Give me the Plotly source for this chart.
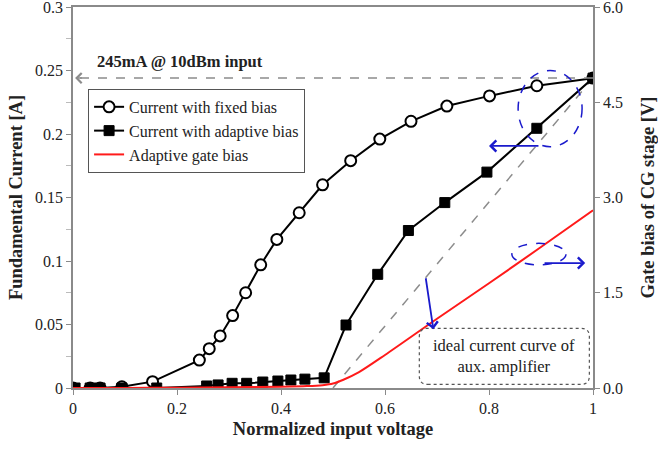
import plotly.graph_objects as go

# ---- data ----
fixed_x = [0, 0.033, 0.052, 0.094, 0.153, 0.243, 0.262, 0.283, 0.307, 0.332, 0.361,
           0.392, 0.435, 0.480, 0.534, 0.590, 0.650, 0.719, 0.801, 0.892, 1.0]
fixed_y = [0, 0, 0, 0.001, 0.005, 0.022, 0.031, 0.041, 0.057, 0.075, 0.097,
           0.117, 0.138, 0.160, 0.179, 0.196, 0.210, 0.222, 0.230, 0.238, 0.244]

adapt_x = [0.004, 0.033, 0.052, 0.094, 0.161, 0.257, 0.279, 0.306, 0.334, 0.365, 0.394,
           0.419, 0.446, 0.483, 0.525, 0.586, 0.645, 0.715, 0.796, 0.892, 1.0]
adapt_y = [0, 0, 0, 0, 0, 0.0016, 0.0024, 0.0037, 0.0037, 0.0047, 0.0055,
           0.0063, 0.0070, 0.0080, 0.0496, 0.0895, 0.124, 0.146, 0.170, 0.2045, 0.244]

gate_x = [0, 0.1, 0.2, 0.3, 0.4, 0.45, 0.48, 0.5, 0.52, 0.55, 0.6, 0.7, 0.8, 0.9, 1.0]
gate_v = [0, 0, 0.005, 0.01, 0.02, 0.03, 0.045, 0.07, 0.13, 0.25, 0.52, 1.09, 1.65, 2.22, 2.80]

ideal_x = [0.5, 1.0]
ideal_y = [0.0, 0.244]

ref_current = 0.244

x_ticks = [0, 0.2, 0.4, 0.6, 0.8, 1.0]
x_ticktext = ["0", "0.2", "0.4", "0.6", "0.8", "1"]
y_ticks = [0, 0.05, 0.1, 0.15, 0.2, 0.25, 0.3]
y_ticktext = ["0", "0.05", "0.1", "0.15", "0.2", "0.25", "0.3"]
y2_ticks = [0, 1.5, 3.0, 4.5, 6.0]
y2_ticktext = ["0.0", "1.5", "3.0", "4.5", "6.0"]

FONT = "Liberation Serif"
AXC = "#8a8a8a"
BLUE = "#1a1acc"
TXT = "#222222"

fig = go.Figure()

fig.add_trace(go.Scatter(x=ideal_x, y=ideal_y, mode="lines", showlegend=False,
                         line=dict(color="#8c8c8c", width=1.5, dash="dash"), hoverinfo="skip"))

fig.add_trace(go.Scatter(x=fixed_x, y=fixed_y, mode="lines+markers", name="Current with fixed bias",
                         line=dict(color="black", width=2),
                         marker=dict(symbol="circle", size=11, color="white",
                                     line=dict(color="black", width=2))))
fig.add_trace(go.Scatter(x=adapt_x, y=adapt_y, mode="lines+markers", name="Current with adaptive bias",
                         line=dict(color="black", width=2),
                         marker=dict(symbol="square", size=10, color="black",
                                     line=dict(color="black", width=1))))
fig.add_trace(go.Scatter(x=gate_x, y=gate_v, mode="lines", name="Adaptive gate bias", yaxis="y2",
                         line=dict(color="#ff1a1a", width=2, shape="spline", smoothing=0.8)))

shapes = []
# horizontal dashed reference line
shapes.append(dict(type="line", xref="x", yref="y", x0=1.0, x1=0.012, y0=ref_current, y1=ref_current,
                   line=dict(color="#8c8c8c", width=1.5, dash="dash")))
# blue dashed ellipses
shapes.append(dict(type="circle", xref="x", yref="y", x0=0.856, x1=0.979, y0=0.190, y1=0.250,
                   line=dict(color=BLUE, width=1.5, dash="dash")))
shapes.append(dict(type="circle", xref="x", yref="y", x0=0.844, x1=0.948, y0=0.0969, y1=0.1139,
                   line=dict(color=BLUE, width=1.5, dash="dash")))
# rounded dotted text box
bx0, bx1, by0, by1 = 0.666, 0.993, 0.0029, 0.047
rx, ry = 0.016, 0.0065
path = (f"M {bx0+rx},{by0} L {bx1-rx},{by0} Q {bx1},{by0} {bx1},{by0+ry} "
        f"L {bx1},{by1-ry} Q {bx1},{by1} {bx1-rx},{by1} L {bx0+rx},{by1} "
        f"Q {bx0},{by1} {bx0},{by1-ry} L {bx0},{by0+ry} Q {bx0},{by0} {bx0+rx},{by0} Z")
shapes.append(dict(type="path", xref="x", yref="y", path=path,
                   line=dict(color="#555555", width=1.2, dash="dot")))

annotations = []
# gray arrow head on horizontal line
annotations.append(dict(x=0.004, y=ref_current, ax=0.02, ay=ref_current, xref="x", yref="y",
                        axref="x", ayref="y", showarrow=True, arrowhead=4, arrowsize=1.3,
                        arrowwidth=1.5, arrowcolor="#8c8c8c", text=""))
annotations.append(dict(x=0.042, y=0.2567, xref="x", yref="y", xanchor="left", yanchor="middle",
                        text="<b>245mA @ 10dBm input</b>", showarrow=False,
                        font=dict(family=FONT, size=16.5, color=TXT)))
# blue arrows
annotations.append(dict(x=0.80, y=0.1906, ax=0.898, ay=0.1906, xref="x", yref="y",
                        axref="x", ayref="y", showarrow=True, arrowhead=4, arrowsize=1.2,
                        arrowwidth=1.8, arrowcolor=BLUE, text=""))
annotations.append(dict(x=0.985, y=0.0984, ax=0.904, ay=0.0984, xref="x", yref="y",
                        axref="x", ayref="y", showarrow=True, arrowhead=4, arrowsize=1.2,
                        arrowwidth=1.8, arrowcolor=BLUE, text=""))
annotations.append(dict(x=0.693, y=0.0462, ax=0.678, ay=0.0876, xref="x", yref="y",
                        axref="x", ayref="y", showarrow=True, arrowhead=4, arrowsize=1.2,
                        arrowwidth=1.8, arrowcolor=BLUE, text=""))
annotations.append(dict(x=(bx0+bx1)/2, y=(by0+by1)/2, xref="x", yref="y",
                        text="ideal current curve of<br>aux. amplifier", showarrow=False,
                        font=dict(family=FONT, size=16.5, color=TXT), align="center"))

fig.update_layout(
    width=658, height=449,
    margin=dict(l=73, r=65, t=7, b=61, autoexpand=False),
    paper_bgcolor="white", plot_bgcolor="white",
    font=dict(family=FONT, size=16, color=TXT),
    showlegend=True,
    legend=dict(x=0.029, y=0.785, xanchor="left", yanchor="top",
                bgcolor="white", bordercolor="#555", borderwidth=1,
                font=dict(family=FONT, size=16, color=TXT),
                itemwidth=30, tracegroupgap=0),
    xaxis=dict(range=[0, 1], tickvals=x_ticks, ticktext=x_ticktext, automargin=False,
               ticklabeloverflow="allow",
               showgrid=False, zeroline=False, showline=True, linecolor=AXC, linewidth=1.5,
               mirror=True, ticks="outside", ticklen=5, tickcolor=AXC,
               tickfont=dict(family=FONT, size=16, color=TXT),
               title=dict(text="<b>Normalized input voltage</b>", font=dict(family=FONT, size=18.5),
                          standoff=6)),
    yaxis=dict(range=[0, 0.3], tickvals=y_ticks, ticktext=y_ticktext, automargin=False,
               ticklabeloverflow="allow",
               showgrid=False, zeroline=False, showline=True, linecolor=AXC, linewidth=1.5,
               ticks="outside", ticklen=5, tickcolor=AXC,
               tickfont=dict(family=FONT, size=16, color=TXT),
               minor=dict(dtick=0.025, ticks="outside", ticklen=5, tickcolor="#bbbbbb"),
               title=dict(text="<b>Fundamental Current [A]</b>", font=dict(family=FONT, size=18.5),
                          standoff=8)),
    yaxis2=dict(range=[0, 6], overlaying="y", side="right", tickvals=y2_ticks, ticktext=y2_ticktext,
                automargin=False, ticklabeloverflow="allow",
                showgrid=False, zeroline=False, showline=True, linecolor=AXC, linewidth=1.5,
                ticks="outside", ticklen=5, tickcolor=AXC,
                tickfont=dict(family=FONT, size=16, color=TXT),
                title=dict(text="<b>Gate bias of CG stage [V]</b>", font=dict(family=FONT, size=18.5),
                           standoff=20)),
    shapes=shapes, annotations=annotations,
)

fig.write_html("out.html")
